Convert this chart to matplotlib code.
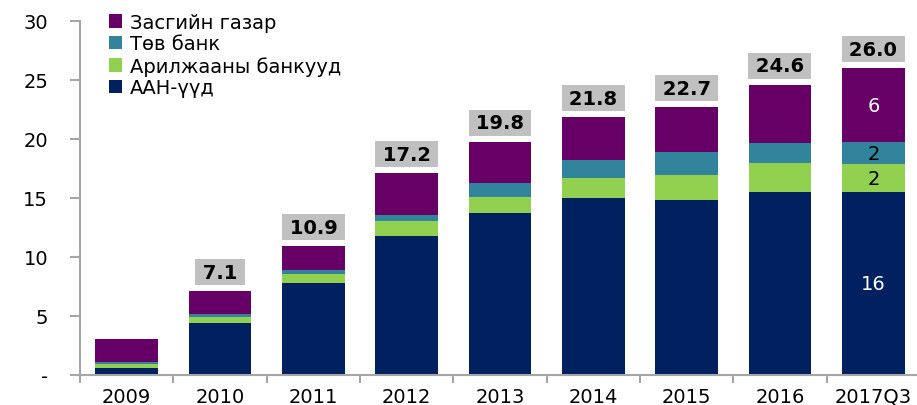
import matplotlib.pyplot as plt
import numpy as np

plt.rcParams['font.family'] = ['DejaVu Sans']

years = ['2009', '2010', '2011', '2012', '2013', '2014', '2015', '2016', '2017Q3']
aan = [0.55, 4.36, 7.75, 11.76, 13.71, 14.96, 14.85, 15.49, 15.49]
arilj = [0.34, 0.54, 0.75, 1.24, 1.36, 1.75, 2.08, 2.43, 2.35]
tov = [0.19, 0.20, 0.33, 0.54, 1.22, 1.53, 1.95, 1.76, 1.90]
zasgiin = [1.90, 2.00, 2.07, 3.56, 3.47, 3.61, 3.82, 4.92, 6.26]
totals = [None, 7.1, 10.9, 17.2, 19.8, 21.8, 22.7, 24.6, 26.0]
# last bar inside labels
last_labels = ['16', '2', '2', '6']

names = ['ААН-үүд', 'Арилжааны банкууд', 'Төв банк', 'Засгийн газар']
colors = ['#002060', '#92D050', '#31849B', '#660066']

fig = plt.figure(figsize=(9.17, 4.06), dpi=100)
ax = fig.add_axes([80 / 917, 30.5 / 406, 840 / 917, 353.5 / 406])

x = np.arange(len(years))
series = [aan, arilj, tov, zasgiin]
bottom = np.zeros(len(years))
for s, n, c in zip(series, names, colors):
    ax.bar(x, s, 0.67, bottom=bottom, color=c, label=n, zorder=2)
    bottom += np.array(s)

# value boxes above bars
for i, t in enumerate(totals):
    if t is None:
        continue
    ax.annotate('\u2009%.1f\u2009' % t, xy=(x[i], bottom[i]), xytext=(0, 13.5),
                textcoords='offset points', ha='center', va='center',
                fontsize=14, fontweight='bold', color='black',
                bbox=dict(boxstyle='square,pad=0.18', fc='#C0C0C0', ec='none'))

# segment labels in last bar
cum = 0
txt_colors = ['white', 'black', 'black', 'white']
for s, lab, tc in zip(series, last_labels, txt_colors):
    v = s[-1]
    ax.text(x[-1], cum + v / 2, lab, ha='center', va='center',
            fontsize=14, color=tc)
    cum += v

ax.set_xlim(-0.5, len(years) - 0.5)
ax.set_ylim(0, 30)
ax.set_yticks([0, 5, 10, 15, 20, 25, 30])
ax.set_yticklabels(['-', '5', '10', '15', '20', '25', '30'], fontsize=14)
ax.set_xticks(x)
ax.set_xticklabels(years, fontsize=14)
ax.set_xticks(np.arange(len(years) + 1) - 0.5, minor=True)
ax.tick_params(axis='x', which='major', length=0, pad=9)
ax.tick_params(axis='x', which='minor', length=6, color='#A6A6A6', width=1.5)
ax.tick_params(axis='y', length=7, color='#A6A6A6', width=1.5, pad=16)

for sp in ['top', 'right']:
    ax.spines[sp].set_visible(False)
for sp in ['left', 'bottom']:
    ax.spines[sp].set_color('#A6A6A6')
    ax.spines[sp].set_linewidth(1.5)

h, l = ax.get_legend_handles_labels()
ax.legend(h[::-1], l[::-1], loc='upper left', bbox_to_anchor=(0.025, 1.045),
          frameon=False, fontsize=14, handlelength=0.7, handleheight=0.7,
          handletextpad=0.4, labelspacing=0.13, borderaxespad=0)

fig.savefig('out.png', dpi=100)
